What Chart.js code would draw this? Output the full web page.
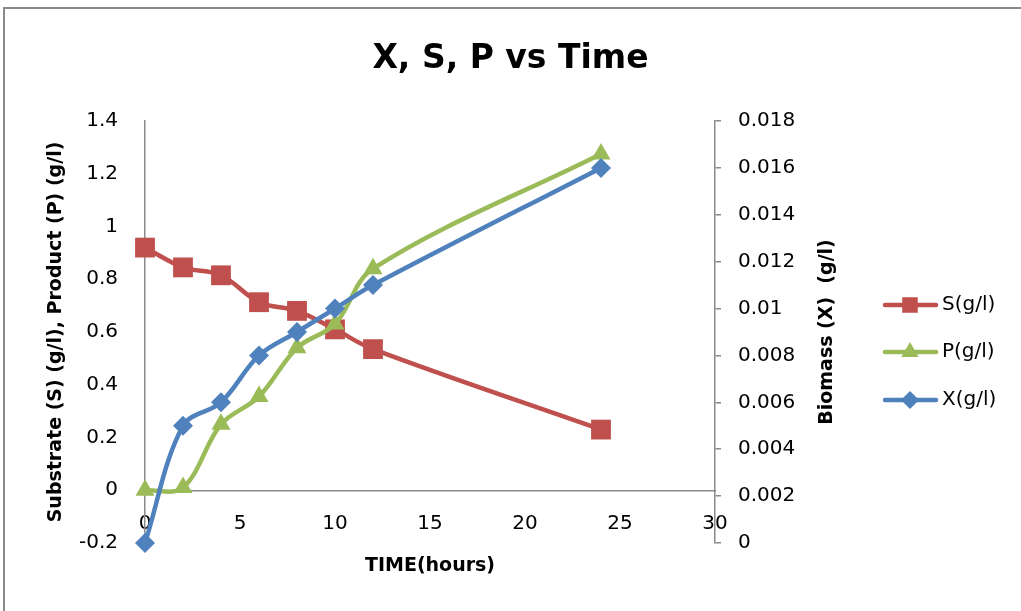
<!DOCTYPE html>
<html>
<head>
<meta charset="utf-8">
<title>X, S, P vs Time</title>
<script src="https://cdn.jsdelivr.net/npm/chart.js@4.4.1/dist/chart.umd.min.js"></script>
<style>
  html, body { margin: 0; padding: 0; background: #fff; }
  #wrap { width: 1021px; height: 611px; }
</style>
</head>
<body>
<div id="wrap"><canvas id="grafica" width="1021" height="611"></canvas></div>
<script>
// sampling times (hours)
const tiempos = [0, 2, 4, 6, 8, 10, 12, 24];
// substrate and product, left axis (g/l)
const sustrato = [0.92, 0.845, 0.815, 0.713, 0.68, 0.61, 0.535, 0.23];
const producto = [0, 0.01, 0.25, 0.355, 0.54, 0.63, 0.84, 1.275];
// biomass, right axis (g/l)
const biomasa = [0, 0.005, 0.006, 0.008, 0.009, 0.010, 0.011, 0.016];

const nombres = ['S(g/l)', 'P(g/l)', 'X(g/l)'];
const colores = ['#C0504D', '#9BBB59', '#4F81BD'];
const marcadores = ['rect', 'triangle', 'rectRot'];

const FUENTE = "'DejaVu Sans', sans-serif";
const GRIS = '#8a8a8a';

function puntos(valores) {
    return tiempos.map(function (t, i) { return { x: t, y: valores[i] }; });
}

function fmt(v) {
    return String(Number(v.toFixed(4)));
}

// outer frame (top and left edges only)
const marco = {
    id: 'marco',
    beforeDraw: function (chart) {
        const ctx = chart.ctx;
        ctx.save();
        ctx.strokeStyle = GRIS;
        ctx.lineWidth = 2;
        ctx.beginPath();
        ctx.moveTo(4, chart.height);
        ctx.lineTo(4, 8);
        ctx.lineTo(chart.width, 8);
        ctx.stroke();
        ctx.restore();
    }
};

function dibujarMarcador(ctx, tipo, x, y, r) {
    ctx.beginPath();
    if (tipo === 'rect') {
        const s = r * Math.SQRT1_2;
        ctx.rect(x - s, y - s, 2 * s, 2 * s);
    } else if (tipo === 'triangle') {
        ctx.moveTo(x, y - r);
        ctx.lineTo(x + r * 0.866, y + r * 0.5);
        ctx.lineTo(x - r * 0.866, y + r * 0.5);
        ctx.closePath();
    } else {
        ctx.moveTo(x, y - r);
        ctx.lineTo(x + r, y);
        ctx.lineTo(x, y + r);
        ctx.lineTo(x - r, y);
        ctx.closePath();
    }
    ctx.fill();
}

// legend on the right plus the rotated title of the biomass axis
const extras = {
    id: 'extras',
    afterDraw: function (chart) {
        const ctx = chart.ctx;
        const area = chart.chartArea;
        ctx.save();

        // right axis title, reading bottom to top
        ctx.fillStyle = '#000';
        ctx.font = 'bold 19px ' + FUENTE;
        ctx.textAlign = 'center';
        ctx.textBaseline = 'middle';
        ctx.translate(827, (area.top + area.bottom) / 2);
        ctx.rotate(-Math.PI / 2);
        ctx.fillText('Biomass (X)  (g/l)', 0, 0);
        ctx.setTransform(1, 0, 0, 1, 0, 0);

        const filas = [305, 352, 400];
        ctx.font = '20px ' + FUENTE;
        ctx.textAlign = 'left';
        for (let i = 0; i < nombres.length; i++) {
            const y = filas[i];
            ctx.strokeStyle = colores[i];
            ctx.fillStyle = colores[i];
            ctx.lineWidth = 4.5;
            ctx.lineCap = 'round';
            ctx.beginPath();
            ctx.moveTo(885, y);
            ctx.lineTo(936, y);
            ctx.stroke();
            const r = i === 0 ? 11 : (i === 1 ? 10 : 9);
            dibujarMarcador(ctx, marcadores[i], 910, y, r);
            ctx.fillStyle = '#000';
            ctx.fillText(nombres[i], 942, y);
        }
        ctx.restore();
    }
};

const ctx = document.getElementById('grafica').getContext('2d');

const data = {
    datasets: [
        {
            label: nombres[2],
            data: puntos(biomasa),
            yAxisID: 'y2',
            borderColor: colores[2],
            backgroundColor: colores[2],
            pointStyle: 'rectRot',
            pointRadius: 10,
            order: 0
        },
        {
            label: nombres[1],
            data: puntos(producto),
            yAxisID: 'y',
            borderColor: colores[1],
            backgroundColor: colores[1],
            pointStyle: 'triangle',
            pointRadius: 11,
            order: 1
        },
        {
            label: nombres[0],
            data: puntos(sustrato),
            yAxisID: 'y',
            borderColor: colores[0],
            backgroundColor: colores[0],
            pointStyle: 'rect',
            pointRadius: 14,
            order: 2
        }
    ]
};

const config = {
    type: 'scatter',
    data: data,
    options: {
        responsive: false,
        animation: false,
        layout: { padding: { left: 0, right: 0, top: 40, bottom: 68 } },
        elements: {
            line: { borderWidth: 4.5, tension: 0.35 },
            point: { borderWidth: 0, hoverRadius: 10 }
        },
        datasets: {
            scatter: { showLine: true, clip: false }
        },
        plugins: {
            legend: { display: false },
            tooltip: { enabled: false },
            title: {
                display: true,
                text: 'X, S, P vs Time',
                color: '#000',
                font: { family: FUENTE, size: 33, weight: 'bold' },
                padding: { top: 0, bottom: 41.4 }
            }
        },
        scales: {
            x: {
                type: 'linear',
                position: { y: 0 },
                min: 0,
                max: 30,
                ticks: {
                    stepSize: 5,
                    padding: 22,
                    color: '#000',
                    font: { family: FUENTE, size: 20 }
                },
                grid: { display: false, drawTicks: false },
                border: { display: true, color: GRIS, width: 1.5 },
                title: {
                    display: true,
                    text: 'TIME(hours)',
                    color: '#000',
                    font: { family: FUENTE, size: 19, weight: 'bold' },
                    padding: { top: -4, bottom: 0 }
                }
            },
            y: {
                type: 'linear',
                position: 'left',
                min: -0.2,
                max: 1.4,
                afterFit: function (scale) { scale.width = 145; },
                ticks: {
                    stepSize: 0.2,
                    padding: 27,
                    color: '#000',
                    font: { family: FUENTE, size: 20 },
                    callback: function (v) { return fmt(v); }
                },
                grid: { display: false, drawTicks: false },
                border: { display: true, color: GRIS, width: 1.5 },
                title: {
                    display: true,
                    text: 'Substrate (S) (g/l), Product (P) (g/l)',
                    color: '#000',
                    font: { family: FUENTE, size: 19, weight: 'bold' },
                    padding: { top: 45, bottom: 0 }
                }
            },
            y2: {
                type: 'linear',
                position: 'right',
                min: 0,
                max: 0.018,
                afterFit: function (scale) { scale.width = 306; },
                ticks: {
                    stepSize: 0.002,
                    padding: 17,
                    color: '#000',
                    font: { family: FUENTE, size: 20 },
                    callback: function (v) { return fmt(v); }
                },
                grid: {
                    display: true,
                    drawOnChartArea: false,
                    drawTicks: true,
                    tickLength: 6,
                    color: GRIS,
                    lineWidth: 1.5
                },
                border: { display: true, color: GRIS, width: 1.5 }
            }
        }
    },
    plugins: [marco, extras]
};

const chart = new Chart(ctx, config);
</script>
</body>
</html>
